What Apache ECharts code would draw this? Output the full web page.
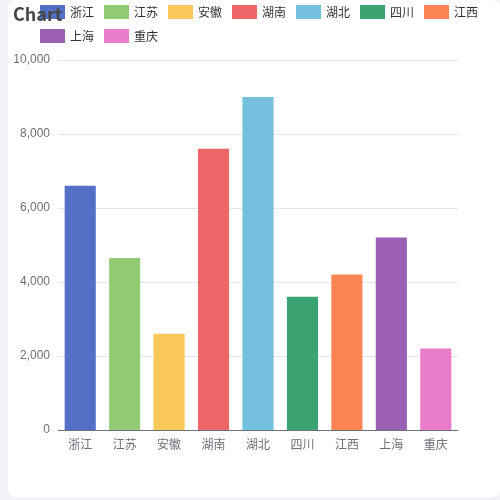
<!DOCTYPE html>
<html>
<head>
<meta charset="utf-8">
<title>Chart</title>
<script src="https://cdn.jsdelivr.net/npm/echarts@6/dist/echarts.min.js"></script>
<style>
    html, body { margin: 0; padding: 0; width: 500px; height: 500px; background: #f3f4f9; overflow: hidden; }
    #main { position: absolute; left: 8px; top: 0; width: 492px; height: 497px; background: #fff; border-radius: 8px; }
</style>
</head>
<body>
<div id="main"></div>
<script>
//省份
var provinces = ['浙江', '江苏', '安徽', '湖南', '湖北', '四川', '江西', '上海', '重庆'];
//数值
var values = [6600, 4650, 2600, 7600, 9000, 3600, 4200, 5200, 2200];
//颜色
var colors = ['#5470c6', '#91cc75', '#fac858', '#ee6666', '#73c0de', '#3ba272', '#fc8452', '#9a60b4', '#ea7ccc'];

var chart = echarts.init(document.getElementById('main'));

//每个省一个系列，只在自己的位置有值
var series = [];
for (var i = 0; i < provinces.length; i++) {
    var d = [];
    for (var j = 0; j < provinces.length; j++) {
        d.push(i == j ? values[i] : '-');
    }
    series.push({
        name: provinces[i],
        type: 'bar',
        stack: 'total',
        barCategoryGap: '30%',
        itemStyle: { color: colors[i] },
        data: d
    });
}

var option = {
    color: colors,
    animation: false,
    title: {
        text: 'Chart',
        left: 0,
        top: 0,
        textStyle: {
            color: '#464646',
            fontSize: 18,
            fontWeight: 'bold',
            fontFamily: 'Noto Sans CJK SC'
        }
    },
    legend: {
        left: 27,
        top: 0,
        icon: 'rect',
        itemWidth: 25,
        itemHeight: 14,
        itemGap: 10,
        textStyle: { color: '#333', fontSize: 12, fontFamily: 'Noto Sans CJK SC' }
    },
    grid: {
        left: 50,
        right: 42,
        top: 60,
        bottom: 67,
        containLabel: false,
        outerBoundsMode: 'none'
    },
    xAxis: {
        type: 'category',
        data: provinces,
        axisLine: { lineStyle: { color: '#6e7079' } },
        axisTick: { lineStyle: { color: '#6e7079' } },
        axisLabel: { color: '#6e7079', fontSize: 12, fontFamily: 'Noto Sans CJK SC' }
    },
    yAxis: {
        type: 'value',
        min: 0,
        max: 10000,
        interval: 2000,
        axisLabel: { color: '#6e7079', fontSize: 12 },
        splitLine: { lineStyle: { color: '#e0e6f1' } }
    },
    series: series
};
chart.setOption(option);
</script>
</body>
</html>
